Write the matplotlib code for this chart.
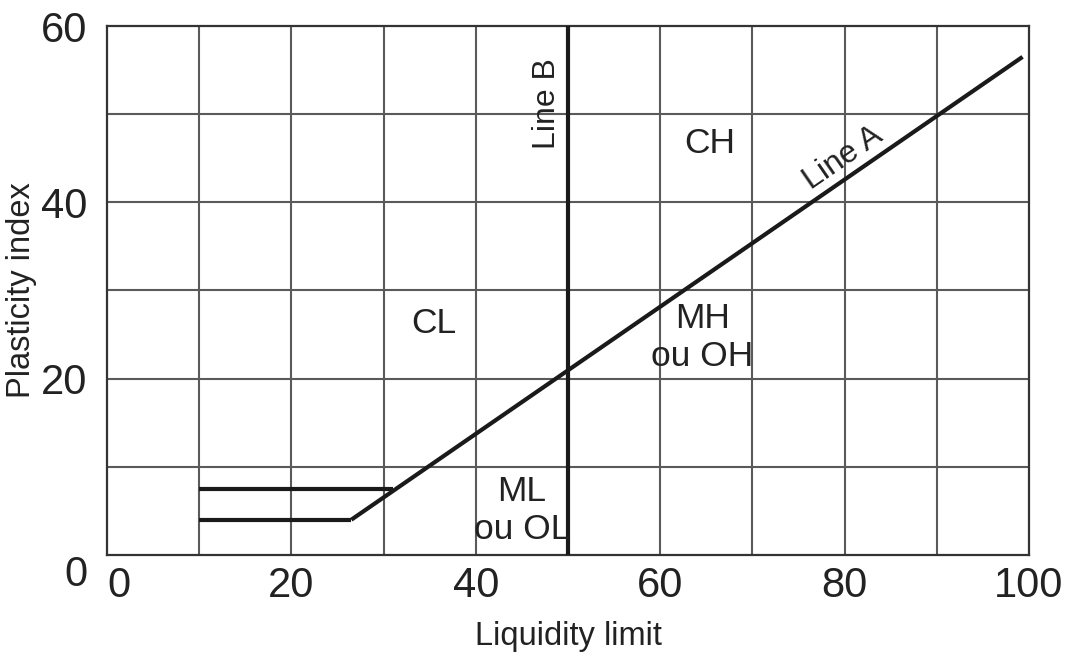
import matplotlib.pyplot as plt

plt.rcParams['font.family'] = ['Liberation Sans Narrow', 'Liberation Sans', 'DejaVu Sans']

# Casagrande plasticity chart
line_a_ll = [26.5, 99.3]
line_a_pi = [4.0, 56.5]
line_b_ll = [50, 50]
line_b_pi = [0, 60]
low_ll = [10, 26.5]
low_pi = [4, 4]
high_ll = [10, 31.0]
high_pi = [7.5, 7.5]

x_ticks = [0, 20, 40, 60, 80, 100]
y_ticks = [0, 20, 40, 60]

zone_labels = ['CL', 'CH', 'MH\nou OH', 'ML\nou OL']
zone_ll = [35.4, 65.4, 64.6, 45.0]
zone_pi = [26.3, 46.7, 24.7, 5.0]

fig = plt.figure(figsize=(10.72, 6.57), dpi=100)
ax = fig.add_axes([0.0998, 0.1553, 0.8601, 0.8051])

ax.set_xlim(0, 100)
ax.set_ylim(0, 60)

# grid
for gx in range(10, 100, 10):
    ax.axvline(gx, color='#5a5a5a', lw=1.5, zorder=1)
for gy in range(10, 60, 10):
    ax.axhline(gy, color='#5a5a5a', lw=1.5, zorder=1)

for s in ax.spines.values():
    s.set_color('#333333')
    s.set_linewidth(1.6)

ax.plot(line_a_ll, line_a_pi, color='#1a1a1a', lw=3, solid_capstyle='butt', zorder=3)
ax.plot(line_b_ll, line_b_pi, color='#1a1a1a', lw=3, solid_capstyle='butt', zorder=3)
ax.plot(low_ll, low_pi, color='#1a1a1a', lw=3, solid_capstyle='butt', zorder=3)
ax.plot(high_ll, high_pi, color='#1a1a1a', lw=3, solid_capstyle='butt', zorder=3)

for lab, x, y in zip(zone_labels, zone_ll, zone_pi):
    ax.text(x, y, lab, fontsize=25.5, ha='center', va='center', color='#222222',
            linespacing=1.2, zorder=4)

ax.text(47.7, 51.2, 'Line B', fontsize=23, rotation=90, ha='center', va='center', color='#222222')
ax.text(79.8, 45.0, 'Line A', fontsize=23, rotation=34.6, ha='center', va='center',
        color='#222222', rotation_mode='anchor')

ax.set_xticks(x_ticks)
ax.set_yticks(y_ticks)
ax.tick_params(length=0, labelsize=30, colors='#222222', pad=8)
ax.tick_params(axis='y', pad=14)
ax.get_xticklabels()[0].set_ha('left')
ax.get_yticklabels()[0].set_va('top')

ax.set_xlabel('Liquidity limit', fontsize=23.5, color='#222222', labelpad=11)
ax.set_ylabel('Plasticity index', fontsize=23.5, color='#222222', labelpad=3)

fig.savefig('out.png', dpi=100)
